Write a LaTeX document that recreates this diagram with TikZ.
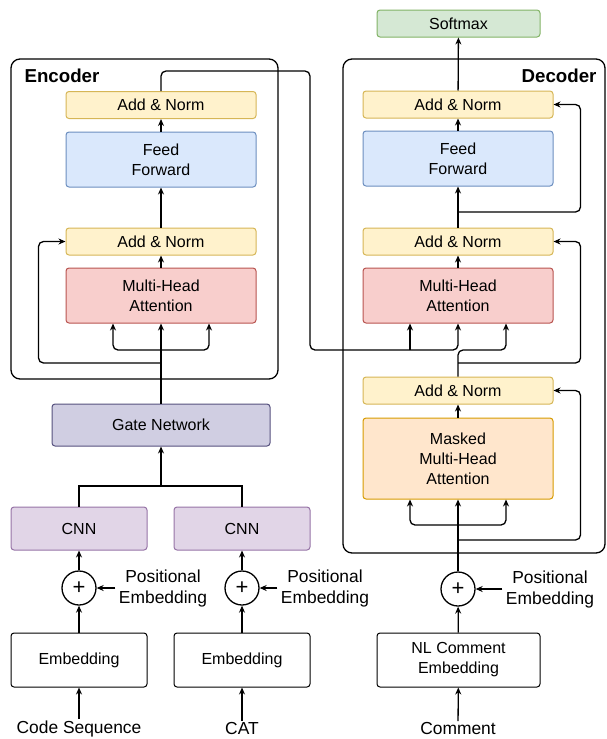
\documentclass[tikz,border=0pt]{standalone}
\usepackage{fontspec}
\setmainfont{Liberation Sans}
\usetikzlibrary{arrows.meta,positioning}

\definecolor{ylwF}{HTML}{FFF2CC}\definecolor{ylwD}{HTML}{D6B656}
\definecolor{bluF}{HTML}{DAE8FC}\definecolor{bluD}{HTML}{6C8EBF}
\definecolor{redF}{HTML}{F8CECC}\definecolor{redD}{HTML}{B85450}
\definecolor{grnF}{HTML}{D5E8D4}\definecolor{grnD}{HTML}{82B366}
\definecolor{orgF}{HTML}{FFE6CC}\definecolor{orgD}{HTML}{D79B00}
\definecolor{purF}{HTML}{E1D5E7}\definecolor{purD}{HTML}{9673A6}
\definecolor{gatF}{HTML}{D0CEE2}\definecolor{gatD}{HTML}{56517E}

\begin{document}
\begin{tikzpicture}[x=1pt, y=-1pt, >={Stealth[length=7pt,width=6pt]},
  every node/.style={font=\fontsize{16}{20}\selectfont},
  box/.style={draw, line width=1pt, rounded corners=3pt, align=center, minimum width=190pt, minimum height=27pt, inner sep=0pt},
  addnorm/.style={box, fill=ylwF, draw=ylwD},
  frame/.style={draw, line width=1.3pt, rounded corners=9pt, inner sep=0pt},
  title/.style={font=\fontsize{18.7}{22}\selectfont\bfseries},
  lbl/.style={align=center, font=\fontsize{17.4}{21}\selectfont},
  plus/.style={circle, draw, line width=1.3pt, minimum size=34pt, inner sep=0pt, font=\fontsize{22}{22}\selectfont},
  conn/.style={line width=1.3pt, rounded corners=5pt}]
\useasboundingbox (0,0) rectangle (606,739);

% frames
\node[frame, minimum width=267pt, minimum height=320pt] (encoder) at (144.5,219) {};
\node[frame, minimum width=262pt, minimum height=494pt] (decoder) at (474,306) {};
\node[title, anchor=west] (enctitle) at (21,76) {Encoder};
\node[title, anchor=east] (dectitle) at (600,76) {Decoder};

% encoder side
\node[addnorm] (an2) at (161,105) {Add \& Norm};
\node[box, fill=bluF, draw=bluD, minimum height=55pt] (ff1) at (161,159.5) {Feed\\Forward};
\node[addnorm] (an1) at (161,241.5) {Add \& Norm};
\node[box, fill=redF, draw=redD, minimum height=55pt] (mha1) at (161,295.5) {Multi-Head\\Attention};
\node[box, fill=gatF, draw=gatD, minimum width=218pt, minimum height=42pt] (gate) at (161,425) {Gate Network};
\node[box, fill=purF, draw=purD, minimum width=136pt, minimum height=43pt] (cnnA) at (79,528.5) {CNN};
\node[box, fill=purF, draw=purD, minimum width=136pt, minimum height=43pt] (cnnB) at (242,528.5) {CNN};
\node[plus] (plusA) at (79,588) {+};
\node[plus] (plusB) at (242,588) {+};
\node[lbl] (posA) at (163,588) {Positional\\Embedding};
\node[lbl] (posB) at (325,588) {Positional\\Embedding};
\node[box, minimum width=136pt, minimum height=54pt] (embA) at (79,660) {Embedding};
\node[box, minimum width=136pt, minimum height=54pt] (embB) at (242,660) {Embedding};
\node[lbl, inner sep=1pt] (codeseq) at (79,728.5) {Code Sequence};
\node[lbl, inner sep=1pt] (cat) at (242,728.5) {CAT};

% decoder side
\node[box, fill=grnF, draw=grnD, minimum width=163pt] (softmax) at (458.5,23.5) {Softmax};
\node[addnorm] (an5) at (458,104.5) {Add \& Norm};
\node[box, fill=bluF, draw=bluD, minimum height=55pt] (ff2) at (458,158.5) {Feed\\Forward};
\node[addnorm] (an4) at (458,241.5) {Add \& Norm};
\node[box, fill=redF, draw=redD, minimum height=55pt] (mha2) at (458,295.5) {Multi-Head\\Attention};
\node[addnorm] (an3) at (458,390.5) {Add \& Norm};
\node[box, fill=orgF, draw=orgD, minimum height=81pt] (mmha) at (458,458.5) {Masked\\Multi-Head\\Attention};
\node[plus] (plusC) at (458,589) {+};
\node[lbl] (posC) at (550,589) {Positional\\Embedding};
\node[box, minimum width=163pt, minimum height=54pt] (nlemb) at (458.5,660) {NL Comment\\Embedding};
\node[lbl, inner sep=1pt] (comment) at (458,728.5) {Comment};

% junction points
\coordinate (gjoin) at (161,486);
\coordinate (ebr) at (161,350);
\coordinate (eres) at (161,363);
\coordinate (eout) at (310,71);
\coordinate (kv) at (310,350);
\coordinate (kvb) at (410,350);
\coordinate (qy) at (506,350);
\coordinate (dbr) at (458,525);
\coordinate (dres1) at (458,540);
\coordinate (dres2) at (458,363);
\coordinate (dres3) at (458,212);

% encoder connectors
\draw[conn,->] (codeseq) -- (embA);
\draw[conn,->] (cat) -- (embB);
\draw[conn,->] (embA) -- (plusA);
\draw[conn,->] (embB) -- (plusB);
\draw[conn,->] (posA.west) -- (plusA);
\draw[conn,->] (posB.west) -- (plusB);
\draw[conn,->] (plusA) -- (cnnA);
\draw[conn,->] (plusB) -- (cnnB);
\draw[line width=1.3pt] (cnnA.north) |- (gjoin) -| (cnnB.north);
\draw[conn,->] (gjoin) -- (gate);
\draw[conn,->] (gate) -- (mha1);
\draw[conn,->] (ebr) -| ([xshift=-48pt]mha1.south);
\draw[conn,->] (ebr) -| ([xshift=48pt]mha1.south);
\draw[conn,->] (eres) -| ([xshift=-27pt]an1.west) -- (an1.west);
\draw[conn,->] (mha1) -- (an1);
\draw[conn,->] (an1) -- (ff1);
\draw[conn,->] (ff1) -- (an2);
\draw[conn,->] (an2.north) |- (eout) -- (kv) -| (mha2.south);
\draw[conn,->] (kvb) -- (kvb |- mha2.south);

% decoder connectors
\draw[conn,->] (comment) -- (nlemb);
\draw[conn,->] (nlemb) -- (plusC);
\draw[conn,->] (posC.west) -- (plusC);
\draw[conn,->] (plusC) -- (mmha);
\draw[conn,->] (dbr) -| ([xshift=-48pt]mmha.south);
\draw[conn,->] (dbr) -| ([xshift=48pt]mmha.south);
\draw[conn,->] (dres1) -| ([xshift=27pt]an3.east) -- (an3.east);
\draw[conn,->] (mmha) -- (an3);
\draw[conn,->] (an3.north) |- (qy) -- (qy |- mha2.south);
\draw[conn,->] (dres2) -| ([xshift=27pt]an4.east) -- (an4.east);
\draw[conn,->] (mha2) -- (an4);
\draw[conn,->] (an4) -- (ff2);
\draw[conn,->] (dres3) -| ([xshift=27pt]an5.east) -- (an5.east);
\draw[conn,->] (ff2) -- (an5);
\draw[conn,->] (an5) -- (softmax);
\end{tikzpicture}
\end{document}
